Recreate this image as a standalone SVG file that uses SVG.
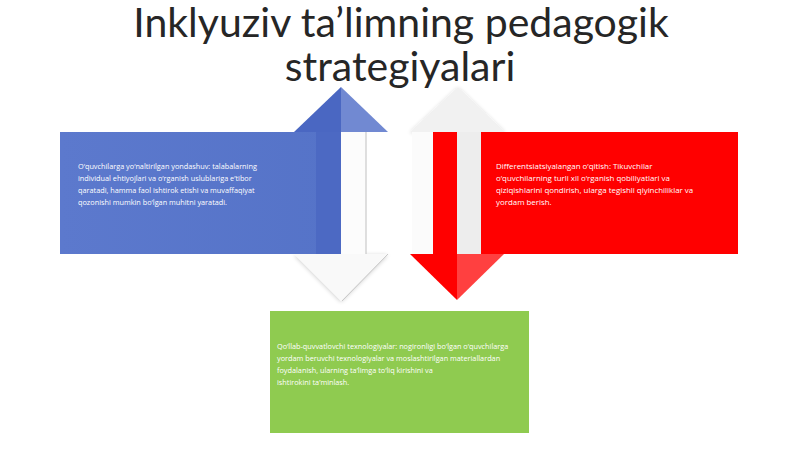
<svg xmlns="http://www.w3.org/2000/svg" width="800" height="449" viewBox="0 0 800 449">
<defs>
<style>
.title{font-family:"Lato","Liberation Sans",sans-serif;font-size:41px;fill:#262626;text-anchor:middle}
.body{font-family:"Open Sans","Liberation Sans",sans-serif;font-size:7.3px;fill:#ffffff}
.bodyr{font-size:7.9px}
</style>
<linearGradient id="gBlue" x1="0" y1="0" x2="1" y2="0">
<stop offset="0" stop-color="#5C79CD"/><stop offset="1" stop-color="#5573C8"/>
</linearGradient>
<filter id="sh" x="-20%" y="-20%" width="140%" height="140%">
<feGaussianBlur in="SourceAlpha" stdDeviation="2"/><feOffset dx="0" dy="1"/>
<feComponentTransfer><feFuncA type="linear" slope="0.2"/></feComponentTransfer>
<feMerge><feMergeNode/><feMergeNode in="SourceGraphic"/></feMerge>
</filter>
</defs>
<rect width="800" height="449" fill="#ffffff"/>
<g id="title">
<text class="title" x="401" y="37">Inklyuziv ta’limning pedagogik</text>
<text class="title" x="400" y="81">strategiyalari</text>
</g>
<g id="connectors">
<polygon points="294,254 341,301 388,254" fill="#F9F9F9" filter="url(#sh)"/>
<line x1="388" y1="254" x2="342" y2="301" stroke="#C8C8C8" stroke-width="1"/>
<rect x="341" y="132" width="25" height="122" fill="#FCFCFC"/>
<line x1="366" y1="132" x2="366" y2="254" stroke="#C0C0C0" stroke-width="1"/>
<polygon points="294,132 341,87 341,132" fill="#4A67C2"/>
<polygon points="341,87 388,132 341,132" fill="#7189D2"/>
<polygon points="410,132 458,87 505,132" fill="#F1F1F1" filter="url(#sh)"/>
<rect x="412" y="132" width="21" height="122" fill="#FBFBFB"/>
<rect x="457" y="132" width="24" height="122" fill="#EDEDED"/>
<rect x="433" y="132" width="24" height="122" fill="#FF0000"/>
<polygon points="410,254 457,300 457,254" fill="#FF0000"/>
<polygon points="457,254 457,300 504,254" fill="#FF4040"/>
</g>
<g id="node-blue">
<rect x="60" y="132" width="281" height="122" fill="url(#gBlue)"/>
<rect x="316" y="132" width="25" height="122" fill="#4C69C3"/>
<text class="body" x="78" y="169">O‘quvchilarga yo‘naltirilgan yondashuv: talabalarning</text>
<text class="body" x="78" y="181">individual ehtiyojlari va o‘rganish uslublariga e’tibor</text>
<text class="body" x="78" y="193">qaratadi, hamma faol ishtirok etishi va muvaffaqiyat</text>
<text class="body" x="78" y="205">qozonishi mumkin bo‘lgan muhitni yaratadi.</text>
</g>
<g id="node-red">
<rect x="481" y="132" width="257" height="122" fill="#FF0000"/>
<text class="body bodyr" x="496" y="169">Differentsiatsiyalangan o‘qitish: Tikuvchilar</text>
<text class="body bodyr" x="496" y="181">o‘quvchilarning turli xil o‘rganish qobiliyatlari va</text>
<text class="body bodyr" x="496" y="193">qiziqishlarini qondirish, ularga tegishli qiyinchiliklar va</text>
<text class="body bodyr" x="496" y="205">yordam berish.</text>
</g>
<g id="node-green">
<rect x="270" y="311" width="259" height="122" fill="#8FCB50"/>
<text class="body" x="277" y="349">Qo‘llab-quvvatlovchi texnologiyalar: nogironligi bo‘lgan o‘quvchilarga</text>
<text class="body" x="277" y="361">yordam beruvchi texnologiyalar va moslashtirilgan materiallardan</text>
<text class="body" x="277" y="373">foydalanish, ularning ta’limga to‘liq kirishini va</text>
<text class="body" x="277" y="385">ishtirokini ta’minlash.</text>
</g>
</svg>
